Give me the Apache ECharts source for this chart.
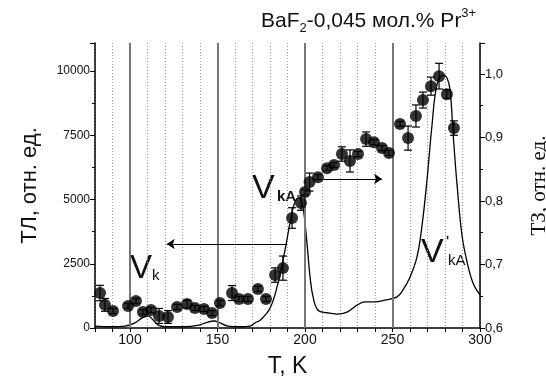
<!DOCTYPE html>
<html>
<head>
<meta charset="utf-8">
<script src="https://cdn.jsdelivr.net/npm/echarts@6/dist/echarts.min.js"></script>
<style>
  html, body { margin: 0; padding: 0; background: #fff; }
  #chart { width: 546px; height: 381px; }
</style>
</head>
<body>
<div id="chart"></div>
<script>
// ТЛ points (left axis)
var tlTemp = [82.9, 85.7, 90.3, 98.9, 103.4, 107.4, 112, 116.6, 121.7, 126.9, 132.6, 137.1, 142.3, 146.9,
    151.4, 158.3, 162.3, 167.4, 173.1, 177.7, 182.9, 187.4, 192.6, 197.7, 200, 202.6, 207.4, 212.6,
    216.6, 221.1, 225.7, 230.3, 234.9, 239.4, 244, 248, 254.3, 258.9, 263.4, 267.4, 272, 276.6, 281.1, 285.1];
var tlValue = [1360, 900, 660, 860, 1050, 620, 700, 470, 430, 820, 930, 780, 740, 580,
    970, 1360, 1130, 1130, 1520, 1130, 2060, 2330, 4280, 4860, 5290, 5680, 5870, 6220,
    6340, 6770, 6500, 6770, 7350, 7230, 7000, 6810, 7940, 7390, 8250, 8870, 9410, 9800, 9100, 7780];
var tlError = [300, 250, 100, 100, 100, 100, 100, 290, 250, 100, 150, 100, 100, 100,
    100, 290, 100, 100, 100, 100, 280, 470, 400, 280, 100, 350, 100, 100,
    100, 280, 430, 100, 280, 100, 100, 100, 100, 470, 430, 310, 350, 500, 170, 280];

// ТЗ curve (right axis)
var tzTemp = [80, 88.6, 97.1, 102.9, 106.9, 110.3, 113.1, 116, 120, 131.4, 140, 144, 148, 151.4, 156,
    162.9, 168.6, 172, 174.3, 180, 184.6, 188.6, 191.4, 193.7, 196, 197.1, 198.9, 201.1, 202.9,
    204.6, 207.4, 212.6, 218.3, 224, 229.7, 234.3, 240, 245.7, 252.6, 256, 260, 264, 266.9,
    269.7, 272.6, 275.4, 278.9, 281.1, 282.9, 284.6, 286.9, 289.7, 292.6, 296, 300];
var tzValue = [0.603, 0.602, 0.603, 0.608, 0.616, 0.619, 0.613, 0.605, 0.602, 0.602, 0.605, 0.609, 0.611, 0.608, 0.603,
    0.602, 0.603, 0.609, 0.612, 0.631, 0.671, 0.723, 0.765, 0.794, 0.805, 0.805, 0.79, 0.734, 0.68,
    0.649, 0.628, 0.624, 0.622, 0.625, 0.636, 0.641, 0.641, 0.644, 0.649, 0.66, 0.68, 0.712, 0.762,
    0.833, 0.92, 0.983, 0.998, 0.994, 0.975, 0.907, 0.825, 0.746, 0.704, 0.671, 0.652];

var majorT = [100, 150, 200, 250];
// arrows: [fromT, toT, level on left axis]
var arrowLeft = [189.7, 121, 3270];
var arrowRight = [210.3, 244, 5800];

var font = 'Arial, "Liberation Sans", sans-serif';
var serif = '"Liberation Serif", "DejaVu Serif", serif';

var tlData = [], errData = [], tzData = [];
for (var i = 0; i < tlTemp.length; i++) {
    tlData.push([tlTemp[i], tlValue[i]]);
    errData.push([tlTemp[i], tlValue[i] - tlError[i], tlValue[i] + tlError[i]]);
}
for (var j = 0; j < tzTemp.length; j++) {
    tzData.push([tzTemp[j], tzValue[j]]);
}

var chart = echarts.init(document.getElementById('chart'), null, { renderer: 'canvas' });

var option = {
    animation: false,
    backgroundColor: '#fff',
    title: {
        left: 256, top: 2,
        text: '{a|BaF}{b|2}{a|-0,045 мол.% Pr}{c|3+}',
        textStyle: {
            fontWeight: 'normal',
            rich: {
                a: { fontFamily: font, fontSize: 21, fontWeight: 'normal', color: '#111', lineHeight: 28 },
                b: { fontFamily: font, fontSize: 13, fontWeight: 'normal', color: '#111', verticalAlign: 'bottom', lineHeight: 13 },
                c: { fontFamily: font, fontSize: 13, fontWeight: 'normal', color: '#111', verticalAlign: 'top', lineHeight: 13 }
            }
        }
    },
    grid: { left: 95, right: 66, top: 43, bottom: 53, outerBoundsMode: 'none', containLabel: false },
    xAxis: {
        type: 'value', min: 80, max: 300, interval: 10,
        name: 'T, K', nameLocation: 'middle', nameGap: 27,
        nameTextStyle: { fontFamily: font, fontSize: 23, color: '#111' },
        axisLine: { show: true, lineStyle: { color: '#000', width: 1.5 } },
        axisTick: { show: true, length: 4, lineStyle: { color: '#000' } },
        axisLabel: {
            fontFamily: font, fontSize: 14, color: '#111', margin: 5,
            formatter: function (v) { return (v % 50 === 0 && v >= 100) ? String(v) : ''; }
        },
        splitLine: { show: true, lineStyle: { color: '#999', width: 1, type: [1, 2] } }
    },
    yAxis: [{
        type: 'value', min: 0, max: 11090, interval: 2500, position: 'left',
        name: 'ТЛ, отн. ед.', nameLocation: 'middle', nameGap: 54, nameRotate: 90,
        nameTextStyle: { fontFamily: font, fontSize: 22, color: '#111' },
        axisLine: { show: true, lineStyle: { color: '#000', width: 1.5 } },
        axisTick: { show: true, length: 5, lineStyle: { color: '#000' } },
        minorTick: { show: true, splitNumber: 2, length: 3, lineStyle: { color: '#000' } },
        axisLabel: {
            fontFamily: font, fontSize: 12, color: '#111', margin: 5,
            formatter: function (v) { return (v % 2500 === 0 && v <= 10000) ? String(v) : ''; }
        },
        splitLine: { show: false }
    }, {
        type: 'value', min: 0.6, max: 1.0488, interval: 0.1, position: 'right',
        name: 'ТЗ, отн. ед.', nameLocation: 'middle', nameGap: 49, nameRotate: 90,
        nameTextStyle: { fontFamily: serif, fontSize: 21, color: '#111' },
        axisLine: { show: true, lineStyle: { color: '#000', width: 1.5 } },
        axisTick: { show: true, length: 5, lineStyle: { color: '#000' } },
        minorTick: { show: true, splitNumber: 2, length: 3, lineStyle: { color: '#000' } },
        axisLabel: {
            fontFamily: font, fontSize: 13, color: '#111', margin: 5,
            formatter: function (v) { return v > 1.01 ? '' : v.toFixed(1).replace('.', ','); }
        },
        splitLine: { show: false }
    }],
    graphic: [
        { type: 'text', left: 130, top: 252, style: { text: 'V', font: '33px ' + font, fill: '#111' } },
        { type: 'text', left: 152, top: 268, style: { text: 'k', font: '15px ' + font, fill: '#111' } },
        { type: 'text', left: 252, top: 172, style: { text: 'V', font: '34px ' + font, fill: '#111' } },
        { type: 'text', left: 277, top: 189, style: { text: 'kA', font: 'bold 15px ' + font, fill: '#111' } },
        { type: 'text', left: 421, top: 236, style: { text: 'V', font: '34px ' + font, fill: '#111' } },
        { type: 'text', left: 446, top: 235, style: { text: "'", font: 'bold 13px ' + font, fill: '#111' } },
        { type: 'text', left: 448, top: 253, style: { text: 'kA', font: '15px ' + font, fill: '#111' } }
    ],
    series: [{
        type: 'line', yAxisIndex: 1, data: tzData, smooth: 0.4, showSymbol: false,
        lineStyle: { color: '#000', width: 1.3 }, z: 3,
        markLine: {
            silent: true, symbol: ['none', 'none'], label: { show: false },
            lineStyle: { color: '#777', width: 2, type: 'solid' },
            data: majorT.map(function (t) { return { xAxis: t }; })
        }
    }, {
        type: 'custom', yAxisIndex: 0, data: errData, z: 4,
        renderItem: function (params, api) {
            var x = api.value(0);
            var lo = api.coord([x, api.value(1)]);
            var hi = api.coord([x, api.value(2)]);
            var w = 4;
            var st = { stroke: '#000', lineWidth: 1.2 };
            return {
                type: 'group', children: [
                    { type: 'line', shape: { x1: lo[0], y1: lo[1], x2: hi[0], y2: hi[1] }, style: st },
                    { type: 'line', shape: { x1: lo[0] - w, y1: lo[1], x2: lo[0] + w, y2: lo[1] }, style: st },
                    { type: 'line', shape: { x1: hi[0] - w, y1: hi[1], x2: hi[0] + w, y2: hi[1] }, style: st }
                ]
            };
        }
    }, {
        type: 'scatter', yAxisIndex: 0, data: tlData, symbol: 'circle', symbolSize: 12, z: 5,
        itemStyle: { color: '#000' },
        markLine: {
            silent: true, symbol: ['none', 'arrow'], symbolSize: 8, label: { show: false },
            lineStyle: { color: '#000', width: 1.2, type: 'solid' },
            data: [
                [{ coord: [arrowLeft[0], arrowLeft[2]] }, { coord: [arrowLeft[1], arrowLeft[2]] }],
                [{ coord: [arrowRight[0], arrowRight[2]] }, { coord: [arrowRight[1], arrowRight[2]] }]
            ]
        }
    }]
};

chart.setOption(option);
</script>
</body>
</html>
